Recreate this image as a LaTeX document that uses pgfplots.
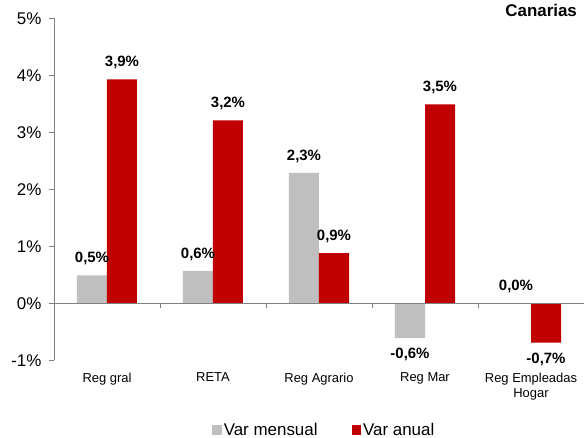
\documentclass[border=0pt]{standalone}
\usepackage{pgfplots}
\pgfplotsset{compat=1.18}
\usepackage{fontspec}
\setmainfont{Liberation Sans}
\definecolor{cgray}{RGB}{191,191,191}
\definecolor{cred}{RGB}{192,0,0}
\definecolor{caxis}{RGB}{128,128,128}
\begin{document}
\begin{tikzpicture}
\path[use as bounding box] (-54bp,-77.7bp) rectangle (530bp,360.3bp);
\begin{axis}[
  at={(0,0)}, anchor=south west,
  scale only axis, width=530bp, height=342bp,
  ybar=0pt, bar width=30bp,
  xmin=-0.5, xmax=4.5, ymin=-1, ymax=5,
  axis lines*=left,
  x axis line style={draw=none},
  y axis line style={caxis, line width=0.8pt},
  xtick={0,1,2,3,4},
  xticklabels={Reg gral, RETA, Reg Agrario, Reg Mar, {Reg Empleadas\\Hogar}},
  xticklabel style={font=\fontsize{13}{15}\selectfont, align=center, text depth=0pt, yshift=-4bp},
  major x tick style={draw=none},
  ytick={-1,0,1,2,3,4,5},
  yticklabels={-1\%,0\%,1\%,2\%,3\%,4\%,5\%},
  yticklabel style={font=\fontsize{17}{19}\selectfont, xshift=-4bp},
  y tick style={caxis, line width=0.8pt},
  tick align=outside, major tick length=5bp,
  /pgf/number format/assume math mode=true,
  nodes near coords={\pgfmathprintnumber[assume math mode=true,fixed,fixed zerofill,precision=1,use comma]{\pgfplotspointmeta}\%},
  nodes near coords align={vertical},
  every node near coord/.append style={font=\bfseries\fontsize{15}{17}\selectfont, inner ysep=10bp, black},
  legend style={at={(0.51,-0.204)}, anchor=center, draw=none, fill=none,
    legend columns=2, font=\fontsize{17}{19}\selectfont,
    /tikz/every even column/.append style={column sep=32bp}},
  legend image code/.code={\fill[#1] (0bp,-4.5bp) rectangle (9.5bp,5bp);},
  clip=false,
]
\addplot[fill=cgray, draw=none] coordinates {(0,0.49) (1,0.57) (2,2.29) (3,-0.61) (4,0.0)};
\addlegendentry{Var mensual}
\addplot[fill=cred, draw=none] coordinates {(0,3.93) (1,3.21) (2,0.88) (3,3.49) (4,-0.69)};
\addlegendentry{Var anual}
\draw[caxis, line width=0.8pt] (axis cs:-0.5,0) -- (axis cs:4.5,0);
\draw[caxis, line width=0.8pt] (axis cs:0.5,0) -- ([yshift=-5bp]axis cs:0.5,0);
\draw[caxis, line width=0.8pt] (axis cs:1.5,0) -- ([yshift=-5bp]axis cs:1.5,0);
\draw[caxis, line width=0.8pt] (axis cs:2.5,0) -- ([yshift=-5bp]axis cs:2.5,0);
\draw[caxis, line width=0.8pt] (axis cs:3.5,0) -- ([yshift=-5bp]axis cs:3.5,0);
\node[anchor=east, font=\bfseries\fontsize{17}{19}\selectfont, inner sep=0pt] at (rel axis cs:0.987,1.024) {Canarias};
\end{axis}
\end{tikzpicture}
\end{document}
